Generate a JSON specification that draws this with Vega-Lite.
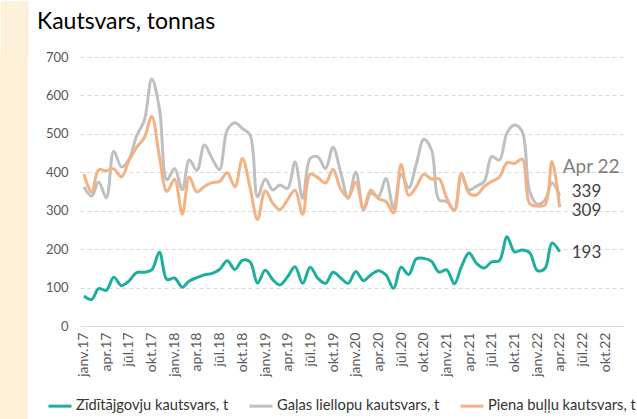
{
  "$schema": "https://vega.github.io/schema/vega-lite/v6.json",
  "padding": 0,
  "background": "white",
  "spacing": 9,
  "config": {"view": {"stroke": null}, "font": "Lato"},
  "hconcat": [
    {
      "width": 28,
      "height": 362,
      "data": {"values": [{}]},
      "layer": [
        {"mark": {"type": "rect", "color": "#FDF0D6"}},
        {
          "mark": {"type": "point", "opacity": 0},
          "encoding": {
            "x": {"datum": 0, "type": "quantitative", "scale": {"domain": [-1, 1]},
              "axis": {"orient": "top", "values": [-0.95, -0.85, -0.75, -0.65, -0.55, -0.45, -0.35, -0.25, -0.15, -0.05, 0.05, 0.15, 0.25, 0.35, 0.45, 0.55, 0.65, 0.75, 0.85, 0.95], "labels": false, "domain": false, "grid": false, "title": null, "ticks": true, "tickSize": 56, "tickWidth": 2, "tickColor": "#FDF0D6", "tickCap": "butt"}}
          }
        }
      ]
    },
    {
      "width": 544,
      "height": 269,
      "title": {"text": ["", "Kautsvars, tonnas"], "anchor": "start", "frame": "group", "dx": -43, "fontSize": 23, "fontWeight": "normal", "color": "#000000", "lineHeight": 10, "offset": 17},
      "data": {"values": [
        {"date": "2017-01-01", "Zīdītājgovju kautsvars, t": 78, "Gaļas liellopu kautsvars, t": 362, "Piena buļļu kautsvars, t": 395},
        {"date": "2017-02-01", "Zīdītājgovju kautsvars, t": 69, "Gaļas liellopu kautsvars, t": 338, "Piena buļļu kautsvars, t": 348},
        {"date": "2017-03-01", "Zīdītājgovju kautsvars, t": 97, "Gaļas liellopu kautsvars, t": 375, "Piena buļļu kautsvars, t": 406},
        {"date": "2017-04-01", "Zīdītājgovju kautsvars, t": 93, "Gaļas liellopu kautsvars, t": 334, "Piena buļļu kautsvars, t": 404},
        {"date": "2017-05-01", "Zīdītājgovju kautsvars, t": 127, "Gaļas liellopu kautsvars, t": 455, "Piena buļļu kautsvars, t": 409},
        {"date": "2017-06-01", "Zīdītājgovju kautsvars, t": 105, "Gaļas liellopu kautsvars, t": 414, "Piena buļļu kautsvars, t": 388},
        {"date": "2017-07-01", "Zīdītājgovju kautsvars, t": 117, "Gaļas liellopu kautsvars, t": 433, "Piena buļļu kautsvars, t": 430},
        {"date": "2017-08-01", "Zīdītājgovju kautsvars, t": 139, "Gaļas liellopu kautsvars, t": 495, "Piena buļļu kautsvars, t": 465},
        {"date": "2017-09-01", "Zīdītājgovju kautsvars, t": 140, "Gaļas liellopu kautsvars, t": 535, "Piena buļļu kautsvars, t": 490},
        {"date": "2017-10-01", "Zīdītājgovju kautsvars, t": 146, "Gaļas liellopu kautsvars, t": 643, "Piena buļļu kautsvars, t": 545},
        {"date": "2017-11-01", "Zīdītājgovju kautsvars, t": 192, "Gaļas liellopu kautsvars, t": 565, "Piena buļļu kautsvars, t": 440},
        {"date": "2017-12-01", "Zīdītājgovju kautsvars, t": 121, "Gaļas liellopu kautsvars, t": 380, "Piena buļļu kautsvars, t": 350},
        {"date": "2018-01-01", "Zīdītājgovju kautsvars, t": 125, "Gaļas liellopu kautsvars, t": 410, "Piena buļļu kautsvars, t": 382},
        {"date": "2018-02-01", "Zīdītājgovju kautsvars, t": 101, "Gaļas liellopu kautsvars, t": 355, "Piena buļļu kautsvars, t": 291},
        {"date": "2018-03-01", "Zīdītājgovju kautsvars, t": 117, "Gaļas liellopu kautsvars, t": 432, "Piena buļļu kautsvars, t": 388},
        {"date": "2018-04-01", "Zīdītājgovju kautsvars, t": 126, "Gaļas liellopu kautsvars, t": 405, "Piena buļļu kautsvars, t": 349},
        {"date": "2018-05-01", "Zīdītājgovju kautsvars, t": 133, "Gaļas liellopu kautsvars, t": 471, "Piena buļļu kautsvars, t": 363},
        {"date": "2018-06-01", "Zīdītājgovju kautsvars, t": 137, "Gaļas liellopu kautsvars, t": 436, "Piena buļļu kautsvars, t": 373},
        {"date": "2018-07-01", "Zīdītājgovju kautsvars, t": 147, "Gaļas liellopu kautsvars, t": 407, "Piena buļļu kautsvars, t": 376},
        {"date": "2018-08-01", "Zīdītājgovju kautsvars, t": 170, "Gaļas liellopu kautsvars, t": 510, "Piena buļļu kautsvars, t": 399},
        {"date": "2018-09-01", "Zīdītājgovju kautsvars, t": 147, "Gaļas liellopu kautsvars, t": 529, "Piena buļļu kautsvars, t": 362},
        {"date": "2018-10-01", "Zīdītājgovju kautsvars, t": 171, "Gaļas liellopu kautsvars, t": 514, "Piena buļļu kautsvars, t": 436},
        {"date": "2018-11-01", "Zīdītājgovju kautsvars, t": 167, "Gaļas liellopu kautsvars, t": 497, "Piena buļļu kautsvars, t": 360},
        {"date": "2018-12-01", "Zīdītājgovju kautsvars, t": 112, "Gaļas liellopu kautsvars, t": 336, "Piena buļļu kautsvars, t": 277},
        {"date": "2019-01-01", "Zīdītājgovju kautsvars, t": 145, "Gaļas liellopu kautsvars, t": 382, "Piena buļļu kautsvars, t": 352},
        {"date": "2019-02-01", "Zīdītājgovju kautsvars, t": 120, "Gaļas liellopu kautsvars, t": 354, "Piena buļļu kautsvars, t": 319},
        {"date": "2019-03-01", "Zīdītājgovju kautsvars, t": 107, "Gaļas liellopu kautsvars, t": 367, "Piena buļļu kautsvars, t": 303},
        {"date": "2019-04-01", "Zīdītājgovju kautsvars, t": 128, "Gaļas liellopu kautsvars, t": 358, "Piena buļļu kautsvars, t": 329},
        {"date": "2019-05-01", "Zīdītājgovju kautsvars, t": 154, "Gaļas liellopu kautsvars, t": 427, "Piena buļļu kautsvars, t": 353},
        {"date": "2019-06-01", "Zīdītājgovju kautsvars, t": 111, "Gaļas liellopu kautsvars, t": 332, "Piena buļļu kautsvars, t": 291},
        {"date": "2019-07-01", "Zīdītājgovju kautsvars, t": 153, "Gaļas liellopu kautsvars, t": 436, "Piena buļļu kautsvars, t": 395},
        {"date": "2019-08-01", "Zīdītājgovju kautsvars, t": 124, "Gaļas liellopu kautsvars, t": 440, "Piena buļļu kautsvars, t": 386},
        {"date": "2019-09-01", "Zīdītājgovju kautsvars, t": 111, "Gaļas liellopu kautsvars, t": 410, "Piena buļļu kautsvars, t": 372},
        {"date": "2019-10-01", "Zīdītājgovju kautsvars, t": 140, "Gaļas liellopu kautsvars, t": 465, "Piena buļļu kautsvars, t": 408},
        {"date": "2019-11-01", "Zīdītājgovju kautsvars, t": 125, "Gaļas liellopu kautsvars, t": 400, "Piena buļļu kautsvars, t": 356},
        {"date": "2019-12-01", "Zīdītājgovju kautsvars, t": 111, "Gaļas liellopu kautsvars, t": 332, "Piena buļļu kautsvars, t": 335},
        {"date": "2020-01-01", "Zīdītājgovju kautsvars, t": 142, "Gaļas liellopu kautsvars, t": 401, "Piena buļļu kautsvars, t": 374},
        {"date": "2020-02-01", "Zīdītājgovju kautsvars, t": 118, "Gaļas liellopu kautsvars, t": 302, "Piena buļļu kautsvars, t": 305},
        {"date": "2020-03-01", "Zīdītājgovju kautsvars, t": 133, "Gaļas liellopu kautsvars, t": 345, "Piena buļļu kautsvars, t": 354},
        {"date": "2020-04-01", "Zīdītājgovju kautsvars, t": 144, "Gaļas liellopu kautsvars, t": 337, "Piena buļļu kautsvars, t": 331},
        {"date": "2020-05-01", "Zīdītājgovju kautsvars, t": 133, "Gaļas liellopu kautsvars, t": 384, "Piena buļļu kautsvars, t": 324},
        {"date": "2020-06-01", "Zīdītājgovju kautsvars, t": 98, "Gaļas liellopu kautsvars, t": 306, "Piena buļļu kautsvars, t": 294},
        {"date": "2020-07-01", "Zīdītājgovju kautsvars, t": 153, "Gaļas liellopu kautsvars, t": 395, "Piena buļļu kautsvars, t": 420},
        {"date": "2020-08-01", "Zīdītājgovju kautsvars, t": 134, "Gaļas liellopu kautsvars, t": 360, "Piena buļļu kautsvars, t": 340},
        {"date": "2020-09-01", "Zīdītājgovju kautsvars, t": 175, "Gaļas liellopu kautsvars, t": 423, "Piena buļļu kautsvars, t": 363},
        {"date": "2020-10-01", "Zīdītājgovju kautsvars, t": 176, "Gaļas liellopu kautsvars, t": 486, "Piena buļļu kautsvars, t": 395},
        {"date": "2020-11-01", "Zīdītājgovju kautsvars, t": 168, "Gaļas liellopu kautsvars, t": 458, "Piena buļļu kautsvars, t": 382},
        {"date": "2020-12-01", "Zīdītājgovju kautsvars, t": 140, "Gaļas liellopu kautsvars, t": 328, "Piena buļļu kautsvars, t": 383},
        {"date": "2021-01-01", "Zīdītājgovju kautsvars, t": 146, "Gaļas liellopu kautsvars, t": 324, "Piena buļļu kautsvars, t": 333},
        {"date": "2021-02-01", "Zīdītājgovju kautsvars, t": 110, "Gaļas liellopu kautsvars, t": 302, "Piena buļļu kautsvars, t": 300},
        {"date": "2021-03-01", "Zīdītājgovju kautsvars, t": 154, "Gaļas liellopu kautsvars, t": 393, "Piena buļļu kautsvars, t": 397},
        {"date": "2021-04-01", "Zīdītājgovju kautsvars, t": 190, "Gaļas liellopu kautsvars, t": 354, "Piena buļļu kautsvars, t": 345},
        {"date": "2021-05-01", "Zīdītājgovju kautsvars, t": 163, "Gaļas liellopu kautsvars, t": 364, "Piena buļļu kautsvars, t": 341},
        {"date": "2021-06-01", "Zīdītājgovju kautsvars, t": 151, "Gaļas liellopu kautsvars, t": 376, "Piena buļļu kautsvars, t": 363},
        {"date": "2021-07-01", "Zīdītājgovju kautsvars, t": 167, "Gaļas liellopu kautsvars, t": 441, "Piena buļļu kautsvars, t": 376},
        {"date": "2021-08-01", "Zīdītājgovju kautsvars, t": 170, "Gaļas liellopu kautsvars, t": 432, "Piena buļļu kautsvars, t": 387},
        {"date": "2021-09-01", "Zīdītājgovju kautsvars, t": 232, "Gaļas liellopu kautsvars, t": 503, "Piena buļļu kautsvars, t": 425},
        {"date": "2021-10-01", "Zīdītājgovju kautsvars, t": 193, "Gaļas liellopu kautsvars, t": 523, "Piena buļļu kautsvars, t": 423},
        {"date": "2021-11-01", "Zīdītājgovju kautsvars, t": 198, "Gaļas liellopu kautsvars, t": 506, "Piena buļļu kautsvars, t": 434},
        {"date": "2021-12-01", "Zīdītājgovju kautsvars, t": 191, "Gaļas liellopu kautsvars, t": 350, "Piena buļļu kautsvars, t": 319},
        {"date": "2022-01-01", "Zīdītājgovju kautsvars, t": 144, "Gaļas liellopu kautsvars, t": 317, "Piena buļļu kautsvars, t": 312},
        {"date": "2022-02-01", "Zīdītājgovju kautsvars, t": 150, "Gaļas liellopu kautsvars, t": 328, "Piena buļļu kautsvars, t": 315},
        {"date": "2022-03-01", "Zīdītājgovju kautsvars, t": 216, "Gaļas liellopu kautsvars, t": 373, "Piena buļļu kautsvars, t": 428},
        {"date": "2022-04-01", "Zīdītājgovju kautsvars, t": 193, "Gaļas liellopu kautsvars, t": 339, "Piena buļļu kautsvars, t": 309}
      ]},
      "transform": [
        {"fold": ["Zīdītājgovju kautsvars, t", "Gaļas liellopu kautsvars, t", "Piena buļļu kautsvars, t"], "as": ["series", "value"]}
      ],
      "encoding": {
        "x": {
          "field": "date", "type": "temporal",
          "scale": {"type": "utc", "domain": [{"year": 2016, "month": 12, "date": 16, "utc": true}, {"year": 2022, "month": 12, "date": 16, "utc": true}]},
          "axis": {
            "title": null, "grid": false, "ticks": false, "domain": true, "domainColor": "#D9D9D9", "domainWidth": 1,
            "tickCount": {"interval": "month", "step": 3},
            "labelAngle": -90, "labelFontSize": 14, "labelColor": "#595959", "labelPadding": 6, "labelOverlap": false, "labelFlush": false, "labelBound": false,
            "labelExpr": "['janv.','feb.','marts','apr.','maijs','jūn.','jūl.','aug.','sept.','okt.','nov.','dec.'][utcmonth(datum.value)] + utcFormat(datum.value, '%y')"
          }
        },
        "y": {
          "field": "value", "type": "quantitative",
          "scale": {"domain": [0, 700], "nice": false, "zero": true},
          "axis": {
            "title": null, "domain": false, "ticks": false, "grid": true, "gridDash": [4, 3], "gridColor": "#D9D9D9",
            "values": [0, 100, 200, 300, 400, 500, 600, 700],
            "labelFontSize": 13, "labelColor": "#595959", "labelPadding": 12
          }
        }
      },
      "layer": [
        {
          "mark": {"type": "line", "interpolate": "catmull-rom", "strokeWidth": 3},
          "encoding": {
            "color": {
              "field": "series", "type": "nominal",
              "scale": {"domain": ["Zīdītājgovju kautsvars, t", "Gaļas liellopu kautsvars, t", "Piena buļļu kautsvars, t"], "range": ["#1DAE9E", "#BFBFBF", "#F4B183"]},
              "legend": {"orient": "none", "legendX": 47, "legendY": 336, "direction": "horizontal", "title": null, "symbolType": "stroke", "symbolSize": 529, "symbolStrokeWidth": 3, "labelFontSize": 14.7, "labelColor": "#333333", "labelOffset": 3, "columnPadding": 14, "labelLimit": 0}
            }
          }
        },
        {
          "transform": [{"filter": "datum.series === 'Gaļas liellopu kautsvars, t' && utcyear(datum.date) === 2022 && utcmonth(datum.date) === 3"}],
          "mark": {"type": "text", "align": "left", "baseline": "middle", "dx": 12, "dy": -4, "fontSize": 17, "color": "#404040"},
          "encoding": {"text": {"field": "value", "type": "quantitative"}}
        },
        {
          "transform": [{"filter": "datum.series === 'Gaļas liellopu kautsvars, t' && utcyear(datum.date) === 2022 && utcmonth(datum.date) === 3"}],
          "mark": {"type": "text", "align": "left", "baseline": "middle", "dx": 3, "dy": -29, "fontSize": 19, "color": "#7F7F7F"},
          "encoding": {"text": {"value": "Apr 22"}}
        },
        {
          "transform": [{"filter": "datum.series === 'Piena buļļu kautsvars, t' && utcyear(datum.date) === 2022 && utcmonth(datum.date) === 3"}],
          "mark": {"type": "text", "align": "left", "baseline": "middle", "dx": 12, "dy": 4, "fontSize": 17, "color": "#404040"},
          "encoding": {"text": {"field": "value", "type": "quantitative"}}
        },
        {
          "transform": [{"filter": "datum.series === 'Zīdītājgovju kautsvars, t' && utcyear(datum.date) === 2022 && utcmonth(datum.date) === 3"}],
          "mark": {"type": "text", "align": "left", "baseline": "middle", "dx": 12, "dy": 1, "fontSize": 17, "color": "#404040"},
          "encoding": {"text": {"field": "value", "type": "quantitative"}}
        }
      ]
    }
  ]
}
